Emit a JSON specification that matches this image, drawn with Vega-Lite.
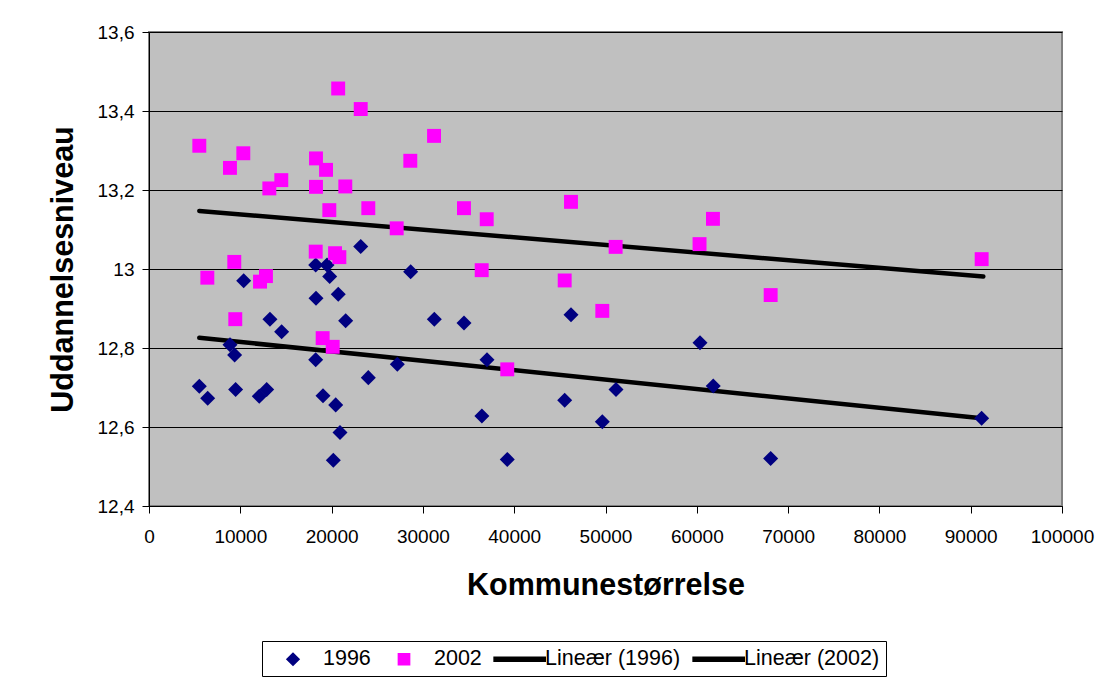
{
  "$schema": "https://vega.github.io/schema/vega-lite/v6.json",
  "width": 913,
  "height": 474,
  "autosize": {"type": "none"},
  "padding": {"left": 149, "top": 32, "right": 42, "bottom": 174},
  "background": "#FFFFFF",
  "config": {
    "view": {"fill": "#C0C0C0", "stroke": "#808080", "strokeWidth": 2},
    "font": "Liberation Sans",
    "axis": {
      "labelFont": "Liberation Sans",
      "titleFont": "Liberation Sans",
      "labelColor": "#000000",
      "titleColor": "#000000",
      "domainColor": "#000000",
      "tickColor": "#000000",
      "labelFontSize": 19,
      "titleFontSize": 30.5,
      "titleFontWeight": "bold",
      "tickSize": 7
    },
    "legend": {"labelFont": "Liberation Sans", "labelFontSize": 21.5, "labelColor": "#000000"}
  },
  "datasets": {
    "points": [
      {"pop": 5510, "level": 12.703, "series": "1996"},
      {"pop": 6430, "level": 12.673, "series": "1996"},
      {"pop": 8870, "level": 12.808, "series": "1996"},
      {"pop": 9380, "level": 12.782, "series": "1996"},
      {"pop": 9490, "level": 12.695, "series": "1996"},
      {"pop": 10370, "level": 12.970, "series": "1996"},
      {"pop": 12080, "level": 12.678, "series": "1996"},
      {"pop": 12890, "level": 12.695, "series": "1996"},
      {"pop": 13250, "level": 12.873, "series": "1996"},
      {"pop": 14530, "level": 12.841, "series": "1996"},
      {"pop": 18260, "level": 13.010, "series": "1996"},
      {"pop": 18290, "level": 12.926, "series": "1996"},
      {"pop": 18260, "level": 12.770, "series": "1996"},
      {"pop": 19060, "level": 12.679, "series": "1996"},
      {"pop": 19500, "level": 13.010, "series": "1996"},
      {"pop": 19790, "level": 12.981, "series": "1996"},
      {"pop": 20190, "level": 12.516, "series": "1996"},
      {"pop": 20450, "level": 12.656, "series": "1996"},
      {"pop": 20730, "level": 12.936, "series": "1996"},
      {"pop": 20920, "level": 12.586, "series": "1996"},
      {"pop": 21540, "level": 12.869, "series": "1996"},
      {"pop": 23190, "level": 13.057, "series": "1996"},
      {"pop": 24020, "level": 12.725, "series": "1996"},
      {"pop": 27200, "level": 12.759, "series": "1996"},
      {"pop": 28660, "level": 12.993, "series": "1996"},
      {"pop": 31250, "level": 12.873, "series": "1996"},
      {"pop": 34500, "level": 12.863, "series": "1996"},
      {"pop": 36460, "level": 12.628, "series": "1996"},
      {"pop": 37020, "level": 12.770, "series": "1996"},
      {"pop": 39240, "level": 12.518, "series": "1996"},
      {"pop": 45530, "level": 12.668, "series": "1996"},
      {"pop": 46220, "level": 12.884, "series": "1996"},
      {"pop": 49650, "level": 12.613, "series": "1996"},
      {"pop": 51150, "level": 12.695, "series": "1996"},
      {"pop": 60350, "level": 12.813, "series": "1996"},
      {"pop": 61800, "level": 12.704, "series": "1996"},
      {"pop": 68090, "level": 12.520, "series": "1996"},
      {"pop": 91200, "level": 12.622, "series": "1996"},
      {"pop": 5510, "level": 13.312, "series": "2002"},
      {"pop": 6390, "level": 12.978, "series": "2002"},
      {"pop": 8870, "level": 13.256, "series": "2002"},
      {"pop": 9340, "level": 13.018, "series": "2002"},
      {"pop": 9450, "level": 12.873, "series": "2002"},
      {"pop": 10330, "level": 13.293, "series": "2002"},
      {"pop": 12160, "level": 12.968, "series": "2002"},
      {"pop": 12810, "level": 12.982, "series": "2002"},
      {"pop": 13180, "level": 13.204, "series": "2002"},
      {"pop": 14490, "level": 13.225, "series": "2002"},
      {"pop": 18290, "level": 13.280, "series": "2002"},
      {"pop": 18290, "level": 13.208, "series": "2002"},
      {"pop": 18260, "level": 13.044, "series": "2002"},
      {"pop": 19020, "level": 12.825, "series": "2002"},
      {"pop": 19390, "level": 13.251, "series": "2002"},
      {"pop": 19750, "level": 13.149, "series": "2002"},
      {"pop": 20120, "level": 12.803, "series": "2002"},
      {"pop": 20380, "level": 13.040, "series": "2002"},
      {"pop": 20720, "level": 13.457, "series": "2002"},
      {"pop": 20850, "level": 13.030, "series": "2002"},
      {"pop": 21500, "level": 13.209, "series": "2002"},
      {"pop": 23190, "level": 13.405, "series": "2002"},
      {"pop": 24020, "level": 13.154, "series": "2002"},
      {"pop": 27130, "level": 13.103, "series": "2002"},
      {"pop": 28620, "level": 13.274, "series": "2002"},
      {"pop": 31220, "level": 13.337, "series": "2002"},
      {"pop": 34500, "level": 13.154, "series": "2002"},
      {"pop": 36440, "level": 12.997, "series": "2002"},
      {"pop": 36990, "level": 13.126, "series": "2002"},
      {"pop": 39240, "level": 12.746, "series": "2002"},
      {"pop": 45530, "level": 12.971, "series": "2002"},
      {"pop": 46220, "level": 13.170, "series": "2002"},
      {"pop": 49650, "level": 12.894, "series": "2002"},
      {"pop": 51110, "level": 13.056, "series": "2002"},
      {"pop": 60300, "level": 13.063, "series": "2002"},
      {"pop": 61770, "level": 13.127, "series": "2002"},
      {"pop": 68090, "level": 12.934, "series": "2002"},
      {"pop": 91200, "level": 13.025, "series": "2002"}
    ],
    "trend": [
      {"pop": 5510, "level": 12.826, "series": "Lineær (1996)"},
      {"pop": 91200, "level": 12.622, "series": "Lineær (1996)"},
      {"pop": 5510, "level": 13.147, "series": "Lineær (2002)"},
      {"pop": 91380, "level": 12.981, "series": "Lineær (2002)"}
    ]
  },
  "layer": [
    {
      "data": {"name": "trend"},
      "mark": {"type": "line", "strokeWidth": 4.5, "strokeCap": "round"},
      "encoding": {
        "x": {
          "field": "pop",
          "type": "quantitative",
          "scale": {"domain": [0, 100000], "nice": false, "zero": false},
          "axis": {
            "title": "Kommunestørrelse",
            "values": [0, 10000, 20000, 30000, 40000, 50000, 60000, 70000, 80000, 90000, 100000],
            "format": "d",
            "grid": false,
            "labelPadding": 14,
            "titlePadding": 24,
            "labelFlush": false
          }
        },
        "y": {
          "field": "level",
          "type": "quantitative",
          "scale": {"domain": [12.4, 13.6], "nice": false, "zero": false},
          "axis": {
            "title": "Uddannelsesniveau",
            "values": [12.4, 12.6, 12.8, 13.0, 13.2, 13.4, 13.6],
            "format": ".1~f",
            "labelExpr": "replace(datum.label, '.', ',')",
            "grid": true,
            "gridColor": "#000000",
            "gridOpacity": 1,
            "gridWidth": 1,
            "labelPadding": 8,
            "titlePadding": 19,
            "labelFlush": false
          }
        },
        "color": {
          "field": "series",
          "type": "nominal",
          "scale": {
            "domain": ["1996", "2002", "Lineær (1996)", "Lineær (2002)"],
            "range": ["#000080", "#FF00FF", "#000000", "#000000"]
          },
          "legend": {
            "title": null,
            "orient": "none",
            "legendX": 113,
            "legendY": 609,
            "direction": "horizontal",
            "columns": 4,
            "strokeColor": "#000000",
            "fillColor": "#FFFFFF",
            "padding": 6,
            "symbolSize": 484,
            "symbolOffset": 13,
            "labelOffset": 18,
            "columnPadding": 8
          }
        }
      }
    },
    {
      "data": {"name": "points"},
      "mark": {"type": "point", "filled": true, "size": 745, "opacity": 1},
      "encoding": {
        "x": {"field": "pop", "type": "quantitative"},
        "y": {"field": "level", "type": "quantitative"},
        "color": {"field": "series", "type": "nominal"},
        "shape": {
          "field": "series",
          "type": "nominal",
          "scale": {
            "domain": ["1996", "2002", "Lineær (1996)", "Lineær (2002)"],
            "range": [
              "M-0.55,0L0,-0.55L0.55,0L0,0.55Z",
              "M-0.51,-0.51H0.51V0.51H-0.51Z",
              "M-1.9,-0.18H2.75V0.18H-1.9Z",
              "M-1.9,-0.18H2.75V0.18H-1.9Z"
            ]
          }
        }
      }
    }
  ]
}
